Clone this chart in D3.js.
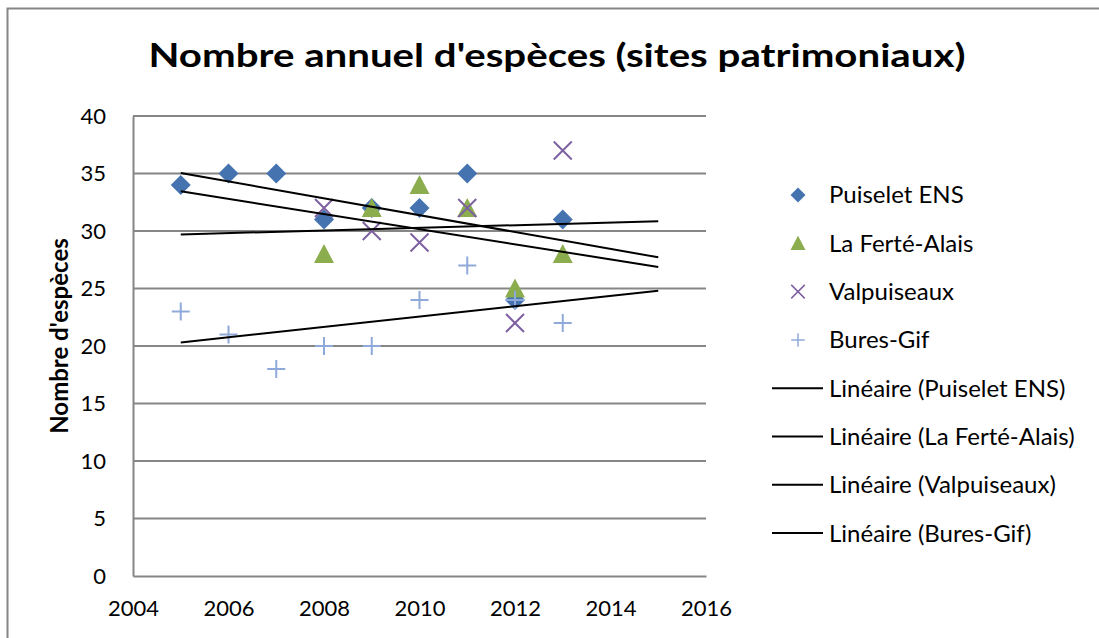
<!DOCTYPE html>
<meta charset="utf-8">
<script src="https://d3js.org/d3.v7.min.js"></script>
<style>
  body { margin: 0; background: #fff; }
  text { font-family: Lato, "Open Sans", sans-serif; fill: #000; }
</style>
<div id="chart"></div>
<script>

// ---- data ----
var seriesNames = ["Puiselet ENS", "La Ferté-Alais", "Valpuiseaux", "Bures-Gif"]
var puiseletYears = [2005, 2006, 2007, 2008, 2009, 2010, 2011, 2012, 2013]
var puiseletValues = [34, 35, 35, 31, 32, 32, 35, 24, 31]
var ferteYears = [2008, 2009, 2010, 2011, 2012, 2013]
var ferteValues = [28, 32, 34, 32, 25, 28]
var valpYears = [2008, 2009, 2010, 2011, 2012, 2013]
var valpValues = [32, 30, 29, 32, 22, 37]
var buresYears = [2005, 2006, 2007, 2008, 2009, 2010, 2011, 2012, 2013]
var buresValues = [23, 21, 18, 20, 20, 24, 27, 24, 22]
var xTicks = [2004, 2006, 2008, 2010, 2012, 2014, 2016]
var yTicks = [0, 5, 10, 15, 20, 25, 30, 35, 40]
var trendRange = [2005, 2015]

var w = 1099, h = 638

var svg = d3.select("#chart")
  .append("svg")
    .attr("width", w)
    .attr("height", h)

// outer chart border
svg.append("rect")
  .attr("x", 7.5).attr("y", 8.5)
  .attr("width", w + 10).attr("height", h + 10)
  .attr("fill", "#fff")
  .attr("stroke", "#868686")
  .attr("stroke-width", 2)

var xScale = d3.scaleLinear().domain([2004, 2016]).range([133, 706])
var yScale = d3.scaleLinear().domain([0, 40]).range([576, 116])

var colors = ["#4573B0", "#8BAD4E", "#7D61A0", "#8FAADA"]

var series = [
  {name: seriesNames[0], years: puiseletYears, values: puiseletValues, shape: "diamond", color: colors[0]},
  {name: seriesNames[1], years: ferteYears, values: ferteValues, shape: "triangle", color: colors[1]},
  {name: seriesNames[2], years: valpYears, values: valpValues, shape: "x", color: colors[2]},
  {name: seriesNames[3], years: buresYears, values: buresValues, shape: "plus", color: colors[3]}
]

// gridlines
svg.append("g")
  .selectAll("line")
  .data(yTicks.filter(d => d > 0))
  .enter()
  .append("line")
    .attr("x1", xScale(2004)).attr("x2", xScale(2016))
    .attr("y1", d => yScale(d)).attr("y2", d => yScale(d))
    .attr("stroke", "#868686")
    .attr("stroke-width", 2)

// axes
var xAxis = svg.append("g")
  .attr("transform", `translate(0,${yScale(0)})`)
  .call(d3.axisBottom(xScale).tickValues(xTicks).tickFormat(d3.format("d")).tickSize(0).tickPadding(24))
xAxis.select(".domain").attr("stroke", "#868686").attr("stroke-width", 2)
xAxis.selectAll("text").attr("font-size", "22px").attr("font-family", "Lato")

var yAxis = svg.append("g")
  .attr("transform", `translate(${xScale(2004)},0)`)
  .call(d3.axisLeft(yScale).tickValues(yTicks).tickSize(0).tickPadding(27))
yAxis.select(".domain").attr("stroke", "#868686").attr("stroke-width", 2)
yAxis.selectAll("text").attr("font-size", "22px").attr("font-family", "Lato")

// marker shapes
function markerPath(shape) {
  if (shape == "diamond") return "M0,-10L10,0L0,10L-10,0Z"
  if (shape == "triangle") return "M0,-10L10,9L-10,9Z"
  if (shape == "x") return "M-9,-9L9,9M-9,9L9,-9"
  return "M-9,0L9,0M0,-9L0,9"
}
function drawMarker(g, shape, color) {
  var filled = shape == "diamond" || shape == "triangle"
  g.append("path")
    .attr("d", markerPath(shape))
    .attr("fill", filled ? color : "none")
    .attr("stroke", filled ? "none" : color)
    .attr("stroke-width", 2)
}

// points
series.forEach(function(s) {
  var pts = s.years.map((y, i) => ({x: y, y: s.values[i]}))
  svg.append("g")
    .selectAll("g")
    .data(pts)
    .enter()
    .append("g")
      .attr("transform", d => `translate(${xScale(d.x)},${yScale(d.y)})`)
      .each(function() { drawMarker(d3.select(this), s.shape, s.color) })
})

// linear trend lines (least squares)
function fit(xs, ys) {
  var mx = d3.mean(xs), my = d3.mean(ys)
  var sxy = d3.sum(xs, (x, i) => (x - mx) * (ys[i] - my))
  var sxx = d3.sum(xs, x => (x - mx) * (x - mx))
  var b = sxy / sxx
  return x => my + b * (x - mx)
}
series.forEach(function(s) {
  var f = fit(s.years, s.values)
  svg.append("line")
    .attr("x1", xScale(trendRange[0])).attr("y1", yScale(f(trendRange[0])))
    .attr("x2", xScale(trendRange[1])).attr("y2", yScale(f(trendRange[1])))
    .attr("stroke", "#000")
    .attr("stroke-width", 2)
})

// title
svg.append("text")
  .attr("x", 557).attr("y", 67)
  .attr("text-anchor", "middle")
  .attr("font-size", "32px")
  .attr("font-weight", "bold")
  .attr("textLength", 817)
  .attr("lengthAdjust", "spacingAndGlyphs")
  .text("Nombre annuel d'espèces (sites patrimoniaux)")

// y label
svg.append("text")
  .attr("transform", "translate(68,336) rotate(-90)")
  .attr("text-anchor", "middle")
  .attr("font-size", "24px")
  .attr("font-weight", "bold")
  .text("Nombre d'espèces")

// legend
var legendY0 = 195, legendStep = 48.3
var legend = svg.append("g")
series.forEach(function(s, i) {
  var g = legend.append("g").attr("transform", `translate(798,${legendY0 + i * legendStep})`)
  drawMarker(g, s.shape, s.color)
  g.select("path").attr("transform", "scale(0.75)")
  legend.append("text")
    .attr("x", 829).attr("y", legendY0 + i * legendStep)
    .attr("dy", "0.35em")
    .attr("font-size", "24px")
    .text(s.name)
})
series.forEach(function(s, i) {
  var y = legendY0 + (i + 4) * legendStep
  legend.append("line")
    .attr("x1", 772).attr("x2", 823)
    .attr("y1", y).attr("y2", y)
    .attr("stroke", "#000").attr("stroke-width", 2)
  legend.append("text")
    .attr("x", 829).attr("y", y)
    .attr("dy", "0.35em")
    .attr("font-size", "24px")
    .text("Linéaire (" + s.name + ")")
})

</script>
